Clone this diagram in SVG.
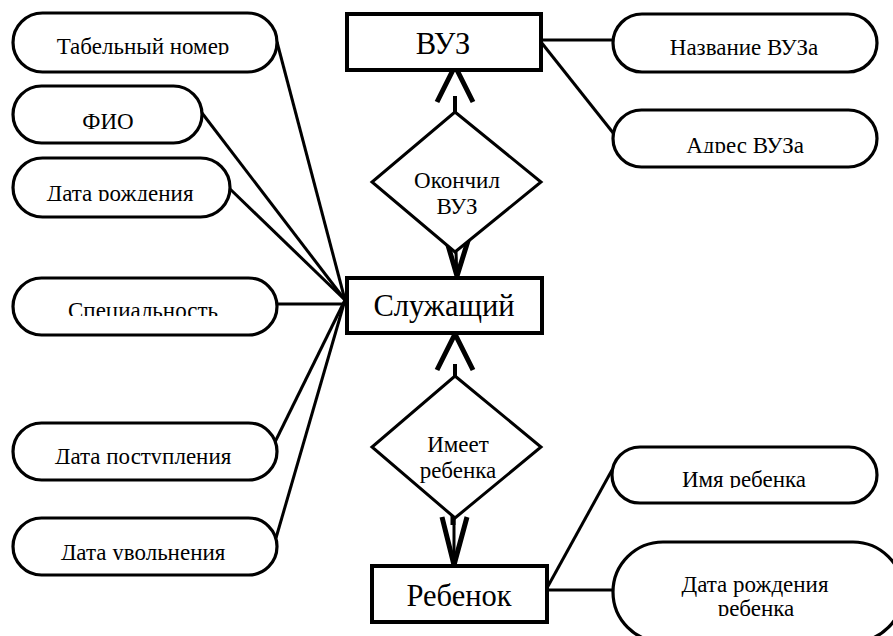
<svg xmlns="http://www.w3.org/2000/svg" width="893" height="636" viewBox="0 0 893 636">
<defs>
<clipPath id="c1"><rect x="0" y="0" width="893" height="55"/></clipPath>
<clipPath id="c3"><rect x="0" y="0" width="893" height="201"/></clipPath>
<clipPath id="c4"><rect x="0" y="0" width="893" height="316"/></clipPath>
<clipPath id="c5"><rect x="0" y="0" width="893" height="464"/></clipPath>
<clipPath id="c6"><rect x="0" y="0" width="893" height="560"/></clipPath>
<clipPath id="c8"><rect x="0" y="0" width="893" height="153"/></clipPath>
<clipPath id="c9"><rect x="0" y="0" width="893" height="488"/></clipPath>
<clipPath id="c10"><rect x="0" y="0" width="893" height="616"/></clipPath>
</defs>
<g id="connectors" stroke="#000" stroke-width="3" fill="none">
<line x1="277" y1="42" x2="345" y2="300"/>
<line x1="202" y1="113" x2="345" y2="300"/>
<line x1="229" y1="188" x2="345" y2="300"/>
<line x1="277" y1="304" x2="348" y2="304"/>
<line x1="275" y1="442" x2="345" y2="300"/>
<line x1="276" y1="538" x2="345" y2="300"/>
<line x1="541" y1="40" x2="613" y2="40"/>
<line x1="541" y1="42" x2="614" y2="134"/>
<line x1="547" y1="590" x2="614" y2="590"/>
<line x1="547" y1="588" x2="612" y2="470"/>
<polyline points="437,102 455,66 473,102" stroke-width="5"/>
<line x1="455" y1="96" x2="455" y2="112" stroke-width="4"/>
<polyline points="443,228 457,276 472,228" stroke-width="5"/>
<line x1="456" y1="252" x2="457" y2="278"/>
<polyline points="437,370 455,334 473,370" stroke-width="5"/>
<line x1="455" y1="364" x2="455" y2="377" stroke-width="4"/>
<polyline points="442,517 454,565 467,517" stroke-width="5"/>
<line x1="454" y1="518" x2="454" y2="566"/>
<line x1="453" y1="514" x2="453" y2="525" stroke-width="5"/>
</g>
<g id="n-tabel"><rect fill="#fff" stroke="#000" stroke-width="3.2" x="13" y="13" width="264" height="59" rx="29.5"/><text font-family="Liberation Serif" font-size="23" text-anchor="middle" x="143" y="54" clip-path="url(#c1)">Табельный номер</text></g>
<g id="n-fio"><rect fill="#fff" stroke="#000" stroke-width="3.2" x="13" y="86" width="189" height="57" rx="28.5"/><text font-family="Liberation Serif" font-size="23" text-anchor="middle" x="108" y="129">ФИО</text></g>
<g id="n-dr"><rect fill="#fff" stroke="#000" stroke-width="3.2" x="13" y="158" width="217" height="59" rx="29.5"/><text font-family="Liberation Serif" font-size="23" text-anchor="middle" x="120" y="201" clip-path="url(#c3)">Дата рождения</text></g>
<g id="n-spec"><rect fill="#fff" stroke="#000" stroke-width="3.2" x="13" y="278" width="264" height="57" rx="28.5"/><text font-family="Liberation Serif" font-size="23" text-anchor="middle" x="143" y="318" clip-path="url(#c4)">Специальность</text></g>
<g id="n-dp"><rect fill="#fff" stroke="#000" stroke-width="3.2" x="13" y="423" width="264" height="57" rx="28.5"/><text font-family="Liberation Serif" font-size="23" text-anchor="middle" x="143" y="464" clip-path="url(#c5)">Дата поступления</text></g>
<g id="n-du"><rect fill="#fff" stroke="#000" stroke-width="3.2" x="13" y="518" width="264" height="57" rx="28.5"/><text font-family="Liberation Serif" font-size="23" text-anchor="middle" x="143" y="560" clip-path="url(#c6)">Дата увольнения</text></g>
<g id="n-vuz"><rect fill="#fff" stroke="#000" stroke-width="4" x="347" y="14" width="194" height="56"/><text font-family="Liberation Serif" font-size="30.5" text-anchor="middle" x="443" y="54">ВУЗ</text></g>
<g id="n-nazv"><rect fill="#fff" stroke="#000" stroke-width="3.2" x="613" y="14" width="264" height="58" rx="29"/><text font-family="Liberation Serif" font-size="23" text-anchor="middle" x="744" y="55">Название ВУЗа</text></g>
<g id="n-adr"><rect fill="#fff" stroke="#000" stroke-width="3.2" x="613" y="110" width="264" height="57" rx="28.5"/><text font-family="Liberation Serif" font-size="23" text-anchor="middle" x="745" y="153" clip-path="url(#c8)">Адрес ВУЗа</text></g>
<g id="n-okonchil"><polygon fill="#fff" stroke="#000" stroke-width="3" points="455,112 541,182 455,252 372,182"/><text font-family="Liberation Serif" font-size="23" text-anchor="middle" x="457" y="188">Окончил</text><text font-family="Liberation Serif" font-size="23" text-anchor="middle" x="457" y="214">ВУЗ</text></g>
<g id="n-sluzh"><rect fill="#fff" stroke="#000" stroke-width="4" x="347" y="278" width="195" height="55"/><text font-family="Liberation Serif" font-size="30.5" text-anchor="middle" x="444" y="316">Служащий</text></g>
<g id="n-imeet"><polygon fill="#fff" stroke="#000" stroke-width="3" points="455,376 541,447 455,518 372,447"/><text font-family="Liberation Serif" font-size="23" text-anchor="middle" x="458" y="452">Имеет</text><text font-family="Liberation Serif" font-size="23" text-anchor="middle" x="458" y="478">ребенка</text></g>
<g id="n-reb"><rect fill="#fff" stroke="#000" stroke-width="4" x="372" y="566" width="175" height="56"/><text font-family="Liberation Serif" font-size="30.5" text-anchor="middle" x="459" y="606">Ребенок</text></g>
<g id="n-imya"><rect fill="#fff" stroke="#000" stroke-width="3.2" x="612" y="447" width="265" height="56" rx="28"/><text font-family="Liberation Serif" font-size="23" text-anchor="middle" x="744" y="487" clip-path="url(#c9)">Имя ребенка</text></g>
<g id="n-drreb"><rect fill="#fff" stroke="#000" stroke-width="3.2" x="613" y="542" width="290" height="100" rx="50"/><text font-family="Liberation Serif" font-size="23" text-anchor="middle" x="755" y="592">Дата рождения</text><text font-family="Liberation Serif" font-size="23" text-anchor="middle" x="756" y="616" clip-path="url(#c10)">ребенка</text></g>
</svg>
